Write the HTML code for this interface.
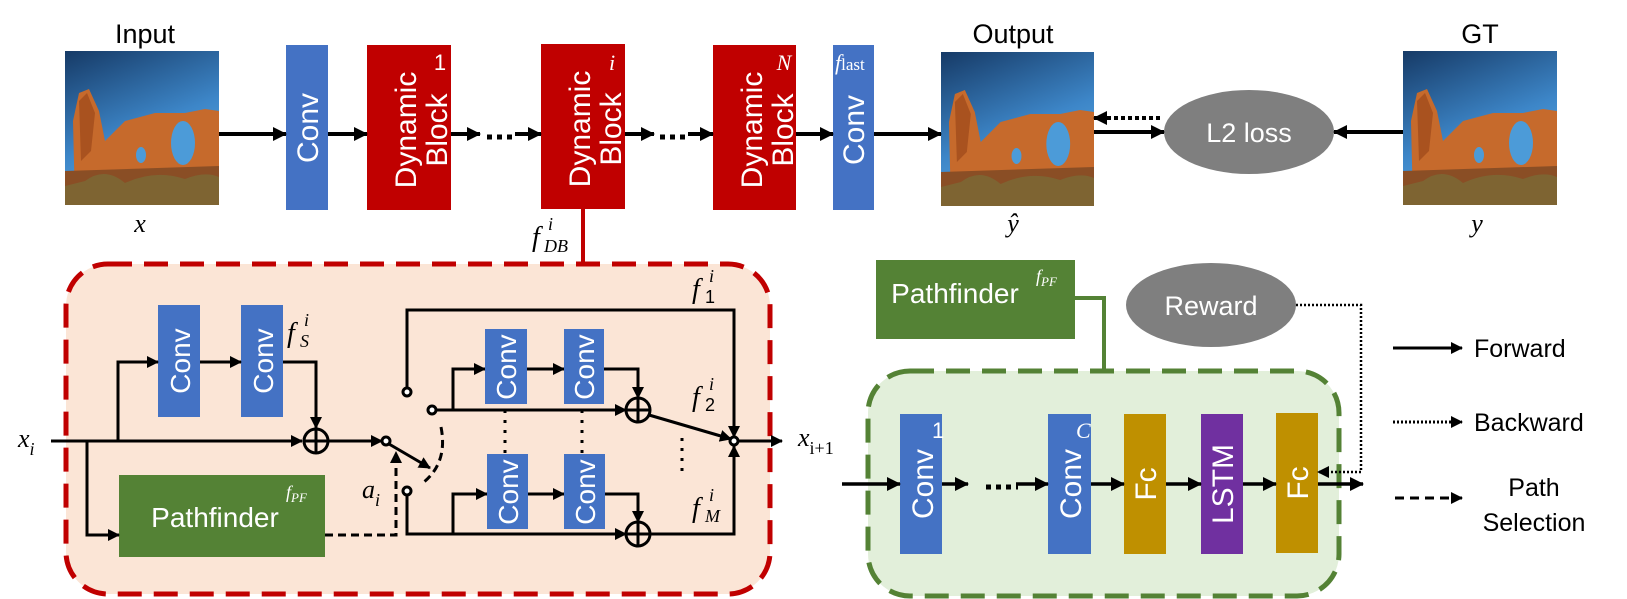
<!DOCTYPE html>
<html><head><meta charset="utf-8"><style>
html,body{margin:0;padding:0;background:#fff;}
svg{display:block;}
text{font-family:"Liberation Sans",sans-serif;}
.m{font-family:"Liberation Serif",serif;font-style:italic;}
</style></head><body>
<svg width="1627" height="599" viewBox="0 0 1627 599" xmlns="http://www.w3.org/2000/svg">
<defs>
<marker id="a" markerUnits="userSpaceOnUse" markerWidth="14" markerHeight="14" refX="13" refY="7" orient="auto"><path d="M0,0 L14,7 L0,14 z" fill="#000"/></marker>
<marker id="s" markerUnits="userSpaceOnUse" markerWidth="12" markerHeight="12" refX="11" refY="6" orient="auto"><path d="M0,0 L12,6 L0,12 z" fill="#000"/></marker>
<linearGradient id="sky" x1="0" y1="0" x2="0.4" y2="1"><stop offset="0" stop-color="#163a66"/><stop offset="0.6" stop-color="#3d86c8"/><stop offset="1" stop-color="#5aa8e0"/></linearGradient>
<symbol id="photo" viewBox="0 0 154 154" preserveAspectRatio="none">
<rect width="154" height="154" fill="url(#sky)"/>
<path d="M10,154 L8,70 L14,42 L24,38 L34,60 L40,90 L60,70 L90,62 L120,62 L140,58 L154,60 L154,154 z" fill="#c66a2c"/>
<path d="M14,50 L22,42 L30,62 L26,100 L16,110 z" fill="#a9521f"/>
<ellipse cx="118" cy="92" rx="12" ry="22" fill="#4c9bd8"/>
<ellipse cx="76" cy="104" rx="5" ry="8" fill="#4c9bd8"/>
<path d="M0,120 L154,115 L154,154 L0,154 z" fill="#8a4e25"/>
<path d="M20,130 Q40,115 60,132 Q90,118 120,128 Q140,120 154,126 L154,154 L0,154 L0,135 z" fill="#7a6a36" opacity="0.8"/>
</symbol>
</defs>

<!-- TOP ROW -->
<text x="145" y="43" font-size="27" text-anchor="middle">Input</text>
<use href="#photo" x="65" y="51" width="154" height="154"/>
<text x="140" y="232" font-size="26" class="m" text-anchor="middle">x</text>

<rect x="286" y="45" width="42" height="165" fill="#4472C4"/>
<text transform="translate(318,128) rotate(-90)" font-size="30" fill="#fff" text-anchor="middle">Conv</text>

<rect x="367" y="45" width="84" height="165" fill="#C00000"/>
<text transform="translate(421,130) rotate(-90)" font-size="30" fill="#fff" text-anchor="middle"><tspan x="0" dy="-5">Dynamic</tspan><tspan x="0" dy="31">Block</tspan></text>
<text x="440" y="70" font-size="22" fill="#fff" font-family="Liberation Serif" text-anchor="middle">1</text>

<rect x="541" y="44" width="84" height="165" fill="#C00000"/>
<text transform="translate(595,129) rotate(-90)" font-size="30" fill="#fff" text-anchor="middle"><tspan x="0" dy="-5">Dynamic</tspan><tspan x="0" dy="31">Block</tspan></text>
<text x="612" y="70" font-size="22" fill="#fff" class="m" text-anchor="middle">i</text>

<rect x="713" y="45" width="83" height="165" fill="#C00000"/>
<text transform="translate(767,130) rotate(-90)" font-size="30" fill="#fff" text-anchor="middle"><tspan x="0" dy="-5">Dynamic</tspan><tspan x="0" dy="31">Block</tspan></text>
<text x="784" y="70" font-size="22" fill="#fff" class="m" text-anchor="middle">N</text>

<rect x="833" y="45" width="41" height="165" fill="#4472C4"/>
<text transform="translate(864,130) rotate(-90)" font-size="30" fill="#fff" text-anchor="middle">Conv</text>
<text x="835" y="70" font-size="22" fill="#fff" class="m">f<tspan font-style="normal" font-size="17">last</tspan></text>

<text x="1013" y="43" font-size="27" text-anchor="middle">Output</text>
<use href="#photo" x="941" y="52" width="153" height="154"/>
<text x="1013" y="232" font-size="26" class="m" text-anchor="middle">ŷ</text>

<ellipse cx="1249" cy="132" rx="85" ry="42" fill="#7F7F7F"/>
<text x="1249" y="142" font-size="27" fill="#fff" text-anchor="middle">L2 loss</text>

<text x="1480" y="43" font-size="27" text-anchor="middle">GT</text>
<use href="#photo" x="1403" y="51" width="154" height="154"/>
<text x="1477" y="232" font-size="26" class="m" text-anchor="middle">y</text>

<g stroke="#000" stroke-width="4" fill="none">
<line x1="219" y1="134" x2="286" y2="134" marker-end="url(#a)"/>
<line x1="328" y1="134" x2="367" y2="134" marker-end="url(#a)"/>
<line x1="451" y1="134" x2="480" y2="134" marker-end="url(#a)"/>
<line x1="487" y1="137" x2="516" y2="137" stroke-dasharray="5 5" stroke-width="5"/>
<line x1="515" y1="134" x2="541" y2="134" marker-end="url(#a)"/>
<line x1="625" y1="134" x2="654" y2="134" marker-end="url(#a)"/>
<line x1="660" y1="137" x2="688" y2="137" stroke-dasharray="5 5" stroke-width="5"/>
<line x1="688" y1="134" x2="713" y2="134" marker-end="url(#a)"/>
<line x1="796" y1="134" x2="833" y2="134" marker-end="url(#a)"/>
<line x1="874" y1="134" x2="941" y2="134" marker-end="url(#a)"/>
<line x1="1094" y1="132" x2="1164" y2="132" marker-end="url(#a)"/>
<line x1="1160" y1="118" x2="1094" y2="118" stroke-dasharray="4 3" marker-end="url(#a)"/>
<line x1="1403" y1="132" x2="1334" y2="132" marker-end="url(#a)"/>
</g>

<!-- connector f_DB -->
<line x1="583" y1="209" x2="583" y2="265" stroke="#C00000" stroke-width="4"/>
<text x="532" y="246" font-size="28" class="m">f</text>
<text x="548" y="230" font-size="18" class="m">i</text>
<text x="544" y="252" font-size="18" class="m">DB</text>

<!-- RED PANEL -->
<rect x="66" y="264" width="704" height="330" rx="42" fill="#FBE5D6" stroke="#C00000" stroke-width="5" stroke-dasharray="24 12"/>

<text x="18" y="447" font-size="26" class="m">x<tspan font-size="18" dy="8">i</tspan></text>
<rect x="158" y="305" width="42" height="112" fill="#4472C4"/>
<text transform="translate(190,361) rotate(-90)" font-size="28" fill="#fff" text-anchor="middle">Conv</text>
<rect x="241" y="305" width="42" height="112" fill="#4472C4"/>
<text transform="translate(273,361) rotate(-90)" font-size="28" fill="#fff" text-anchor="middle">Conv</text>
<text x="287" y="342" font-size="28" class="m">f</text>
<text x="304" y="326" font-size="18" class="m">i</text>
<text x="300" y="347" font-size="18" class="m">S</text>

<rect x="119" y="475" width="206" height="82" fill="#548235"/>
<text x="215" y="527" font-size="28" fill="#fff" text-anchor="middle">Pathfinder</text>
<text x="286" y="498" font-size="18" fill="#fff" class="m">f<tspan font-size="13" dy="4">PF</tspan></text>

<g stroke="#000" stroke-width="3" fill="none">
<line x1="51" y1="441" x2="302" y2="441" marker-end="url(#s)"/>
<polyline points="118,441 118,362 158,362" marker-end="url(#s)"/>
<line x1="200" y1="362" x2="241" y2="362" marker-end="url(#s)"/>
<polyline points="283,362 316,362 316,428" marker-end="url(#s)"/>
<polyline points="87,441 87,535 119,535" marker-end="url(#s)"/>
<circle cx="316" cy="441" r="12"/>
<line x1="304" y1="441" x2="328" y2="441"/><line x1="316" y1="429" x2="316" y2="453"/>
<line x1="328" y1="441" x2="382" y2="441" marker-end="url(#s)"/>
<line x1="389" y1="444" x2="430" y2="468" marker-end="url(#s)"/>
<path d="M441,427 Q448,462 424,482" stroke-dasharray="8 5"/>
<polyline points="325,535 396,535 396,452" stroke-dasharray="8 5" marker-end="url(#s)"/>
<circle cx="386" cy="441" r="4" fill="#fff"/>
<polyline points="407,388 407,310 734,310 734,437" marker-end="url(#s)"/>
<circle cx="407" cy="392" r="4" fill="#fff"/>
<line x1="436" y1="410" x2="626" y2="410" marker-end="url(#s)"/>
<polyline points="453,410 453,369 485,369" marker-end="url(#s)"/>
<line x1="527" y1="369" x2="564" y2="369" marker-end="url(#s)"/>
<polyline points="604,369 638,369 638,398" marker-end="url(#s)"/>
<circle cx="638" cy="410" r="12"/>
<line x1="626" y1="410" x2="650" y2="410"/><line x1="638" y1="398" x2="638" y2="422"/>
<line x1="649" y1="415" x2="731" y2="439" marker-end="url(#s)"/>
<circle cx="432" cy="410" r="4" fill="#fff"/>
<polyline points="407,495 407,534 626,534" marker-end="url(#s)"/>
<polyline points="453,534 453,494 487,494" marker-end="url(#s)"/>
<line x1="528" y1="494" x2="564" y2="494" marker-end="url(#s)"/>
<polyline points="605,494 638,494 638,522" marker-end="url(#s)"/>
<circle cx="638" cy="534" r="12"/>
<line x1="626" y1="534" x2="650" y2="534"/><line x1="638" y1="522" x2="638" y2="546"/>
<polyline points="650,534 734,534 734,446" marker-end="url(#s)"/>
<circle cx="407" cy="491" r="4" fill="#fff"/>
<line x1="738" y1="441" x2="782" y2="441" marker-end="url(#s)"/>
<circle cx="734" cy="441" r="4" fill="#fff"/>
<g stroke-dasharray="3 7" stroke-width="3">
<line x1="505" y1="410" x2="505" y2="456"/><line x1="582" y1="410" x2="582" y2="456"/><line x1="682" y1="438" x2="682" y2="472"/>
</g>
</g>
<rect x="485" y="329" width="42" height="75" fill="#4472C4"/>
<text transform="translate(516,367) rotate(-90)" font-size="28" fill="#fff" text-anchor="middle">Conv</text>
<rect x="564" y="329" width="40" height="75" fill="#4472C4"/>
<text transform="translate(594,367) rotate(-90)" font-size="28" fill="#fff" text-anchor="middle">Conv</text>
<rect x="487" y="454" width="41" height="75" fill="#4472C4"/>
<text transform="translate(518,492) rotate(-90)" font-size="28" fill="#fff" text-anchor="middle">Conv</text>
<rect x="564" y="454" width="41" height="75" fill="#4472C4"/>
<text transform="translate(595,492) rotate(-90)" font-size="28" fill="#fff" text-anchor="middle">Conv</text>
<text x="362" y="498" font-size="26" class="m">a<tspan font-size="18" dy="8">i</tspan></text>
<text x="692" y="298" font-size="28" class="m">f</text><text x="709" y="282" font-size="18" class="m">i</text><text x="705" y="303" font-size="18" font-family="Liberation Serif">1</text>
<text x="692" y="406" font-size="28" class="m">f</text><text x="709" y="390" font-size="18" class="m">i</text><text x="705" y="411" font-size="18" font-family="Liberation Serif">2</text>
<text x="692" y="517" font-size="28" class="m">f</text><text x="709" y="501" font-size="18" class="m">i</text><text x="705" y="522" font-size="18" class="m">M</text>
<text x="798" y="446" font-size="26" class="m">x<tspan font-size="18" dy="8" font-style="normal">i+1</tspan></text>

<!-- GREEN PANEL -->
<rect x="876" y="260" width="199" height="79" fill="#548235"/>
<text x="955" y="303" font-size="28" fill="#fff" text-anchor="middle">Pathfinder</text>
<text x="1036" y="282" font-size="18" fill="#fff" class="m">f<tspan font-size="13" dy="4">PF</tspan></text>
<polyline points="1075,298 1104,298 1104,372" stroke="#548235" stroke-width="4" fill="none"/>
<ellipse cx="1211" cy="305" rx="85" ry="42" fill="#7F7F7F"/>
<text x="1211" y="315" font-size="27" fill="#fff" text-anchor="middle">Reward</text>

<rect x="868" y="371" width="471" height="225" rx="42" fill="#E2EFDA" stroke="#548235" stroke-width="5" stroke-dasharray="24 12"/>
<rect x="900" y="414" width="42" height="140" fill="#4472C4"/>
<text transform="translate(933,484) rotate(-90)" font-size="30" fill="#fff" text-anchor="middle">Conv</text>
<text x="932" y="438" font-size="22" fill="#fff" font-family="Liberation Serif">1</text>
<rect x="1048" y="414" width="43" height="140" fill="#4472C4"/>
<text transform="translate(1081,484) rotate(-90)" font-size="30" fill="#fff" text-anchor="middle">Conv</text>
<text x="1076" y="438" font-size="22" fill="#fff" class="m">C</text>
<rect x="1124" y="414" width="42" height="140" fill="#BF9000"/>
<text transform="translate(1156,484) rotate(-90)" font-size="30" fill="#fff" text-anchor="middle">Fc</text>
<rect x="1201" y="414" width="42" height="140" fill="#7030A0"/>
<text transform="translate(1233,484) rotate(-90)" font-size="30" fill="#fff" text-anchor="middle">LSTM</text>
<rect x="1276" y="413" width="42" height="140" fill="#BF9000"/>
<text transform="translate(1308,483) rotate(-90)" font-size="30" fill="#fff" text-anchor="middle">Fc</text>

<g stroke="#000" stroke-width="3.5" fill="none">
<line x1="842" y1="484" x2="900" y2="484" marker-end="url(#a)"/>
<line x1="942" y1="484" x2="968" y2="484" marker-end="url(#a)"/>
<line x1="986" y1="487" x2="1018" y2="487" stroke-dasharray="5 5" stroke-width="5"/>
<line x1="1016" y1="484" x2="1048" y2="484" marker-end="url(#a)"/>
<line x1="1091" y1="484" x2="1124" y2="484" marker-end="url(#a)"/>
<line x1="1166" y1="484" x2="1201" y2="484" marker-end="url(#a)"/>
<line x1="1243" y1="484" x2="1276" y2="484" marker-end="url(#a)"/>
<line x1="1318" y1="484" x2="1363" y2="484" marker-end="url(#a)"/>
<polyline points="1296,305 1361,305 1361,472 1318,472" stroke-width="2.5" stroke-dasharray="2 2" marker-end="url(#s)"/>
<line x1="1393" y1="348" x2="1462" y2="348" stroke-width="3" marker-end="url(#s)"/>
<line x1="1393" y1="422" x2="1462" y2="422" stroke-width="3" stroke-dasharray="2 2" marker-end="url(#s)"/>
<line x1="1395" y1="498" x2="1462" y2="498" stroke-width="3" stroke-dasharray="9 6" marker-end="url(#s)"/>
</g>
<text x="1474" y="357" font-size="25">Forward</text>
<text x="1474" y="431" font-size="25">Backward</text>
<text x="1534" y="496" font-size="25" text-anchor="middle">Path</text>
<text x="1534" y="531" font-size="25" text-anchor="middle">Selection</text>
</svg>
</body></html>
